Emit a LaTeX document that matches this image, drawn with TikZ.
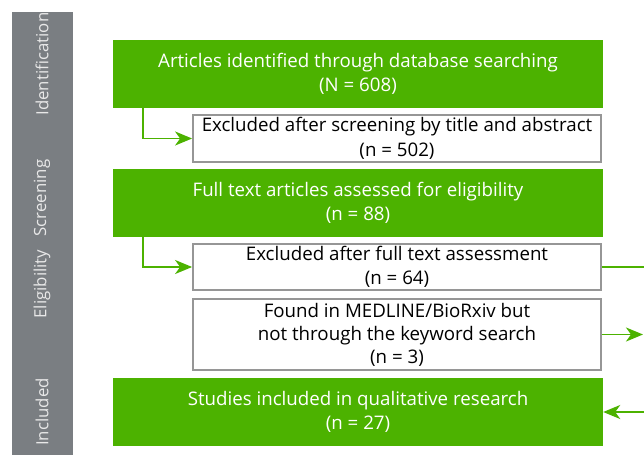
\documentclass[tikz,border=0pt]{standalone}
\usepackage{fontspec}
\setmainfont{Open Sans}
\usetikzlibrary{arrows.meta,calc}
\definecolor{pgreen}{RGB}{76,178,0}
\definecolor{sidegray}{RGB}{122,126,130}
\definecolor{sidetext}{RGB}{232,232,232}
\definecolor{boxgray}{RGB}{150,150,150}
\begin{document}
\begin{tikzpicture}[x=1pt,y=-1pt,
  txt/.style={font=\fontsize{18.7}{24.5}\selectfont, align=center, inner sep=0pt},
  greenbox/.style={txt, rectangle, fill=pgreen, text=white, minimum width=490pt},
  whitebox/.style={txt, rectangle, draw=boxgray, line width=1.8pt, fill=white, text=black, minimum width=408pt},
  phase/.style={font=\fontsize{16.8}{20}\selectfont, text=sidetext, rotate=90, inner sep=0pt},
  arr/.style={draw=pgreen, line width=1.8pt, -{Stealth[length=17pt,width=14pt,inset=5pt]}},
  ln/.style={draw=pgreen, line width=1.8pt}
]
\useasboundingbox (0,0) rectangle (644,455);
\fill[white] (0,0) rectangle (644,455);
% sidebar
\node[fill=sidegray, minimum width=61pt, minimum height=443pt, inner sep=0pt, anchor=north west] (side) at (12,12) {};
\node[phase] (pid) at (42,64) {Identification};
\node[phase] (psc) at (42,198) {Screening};
\node[phase] (pel) at (42,284) {Eligibility};
\node[phase] (pin) at (42,412) {Included};
% boxes
\node[greenbox, minimum height=68pt] (g1) at (358,74) {Articles identified through database searching\\(N = 608)};
\node[whitebox, minimum height=47pt] (w1) at (397,138.5) {Excluded after screening by title and abstract\\(n = 502)};
\node[greenbox, minimum height=68pt] (g2) at (358,203) {Full text articles assessed for eligibility\\(n = 88)};
\node[whitebox, minimum height=46pt] (w2) at (397,267) {Excluded after full text assessment\\(n = 64)};
\node[whitebox, minimum height=71pt, font=\fontsize{18.7}{23}\selectfont] (w3) at (397,334.5) {Found in MEDLINE/BioRxiv but\\not through the keyword search\\(n = 3)};
\node[greenbox, minimum height=68pt] (g3) at (358,412) {Studies included in qualitative research\\(n = 27)};
% right edge
\coordinate (redge) at (644,0);
% connectors
\draw[arr] ([xshift=30pt]g1.south west) |- (w1.west);
\draw[arr] ([xshift=30pt]g2.south west) |- (w2.west);
\draw[ln] (w2.east) -- (w2.east -| redge);
\draw[arr] (w3.east) -- ([xshift=-1pt]w3.east -| redge);
\draw[arr] (g3.east -| redge) -- (g3.east);
\end{tikzpicture}
\end{document}
